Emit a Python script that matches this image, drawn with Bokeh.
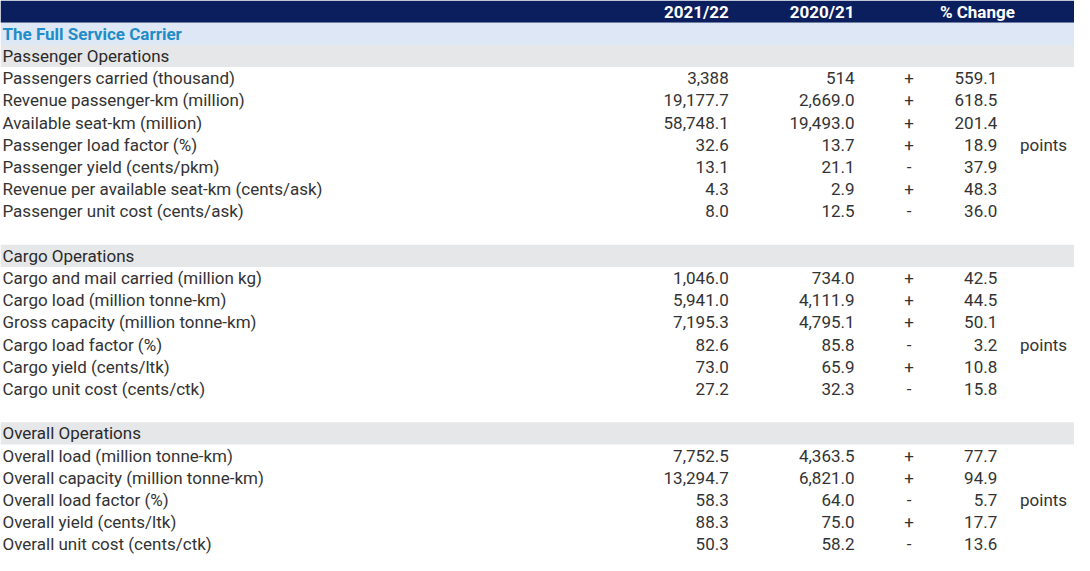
from bokeh.plotting import figure
from bokeh.models import ColumnDataSource, Range1d
from bokeh.core.properties import value
from bokeh.embed import file_html
from bokeh.resources import INLINE

# ---------------- data ----------------
column_headers = ["2021/22", "2020/21", "% Change"]
table_title = "The Full Service Carrier"
section_names = ["Passenger Operations", "Cargo Operations", "Overall Operations"]

pax_labels = [
    "Passengers carried (thousand)",
    "Revenue passenger-km (million)",
    "Available seat-km (million)",
    "Passenger load factor (%)",
    "Passenger yield (cents/pkm)",
    "Revenue per available seat-km (cents/ask)",
    "Passenger unit cost (cents/ask)",
]
pax_2122 = [3388, 19177.7, 58748.1, 32.6, 13.1, 4.3, 8.0]
pax_2021 = [514, 2669.0, 19493.0, 13.7, 21.1, 2.9, 12.5]
pax_change = [559.1, 618.5, 201.4, 18.9, -37.9, 48.3, -36.0]
pax_points = [False, False, False, True, False, False, False]

cargo_labels = [
    "Cargo and mail carried (million kg)",
    "Cargo load (million tonne-km)",
    "Gross capacity (million tonne-km)",
    "Cargo load factor (%)",
    "Cargo yield (cents/ltk)",
    "Cargo unit cost (cents/ctk)",
]
cargo_2122 = [1046.0, 5941.0, 7195.3, 82.6, 73.0, 27.2]
cargo_2021 = [734.0, 4111.9, 4795.1, 85.8, 65.9, 32.3]
cargo_change = [42.5, 44.5, 50.1, -3.2, 10.8, -15.8]
cargo_points = [False, False, False, True, False, False]

overall_labels = [
    "Overall load (million tonne-km)",
    "Overall capacity (million tonne-km)",
    "Overall load factor (%)",
    "Overall yield (cents/ltk)",
    "Overall unit cost (cents/ctk)",
]
overall_2122 = [7752.5, 13294.7, 58.3, 88.3, 50.3]
overall_2021 = [4363.5, 6821.0, 64.0, 75.0, 58.2]
overall_change = [77.7, 94.9, -5.7, 17.7, -13.6]
overall_points = [False, False, True, False, False]

# ---------------- layout ----------------
TOTAL_W = 1084
X_LABEL = 2
X_C1 = 735
X_C2 = 862
X_SIGN = 917
X_PCT = 1006
X_PTS = 1029
X_HDR3 = 986

FONT = value("Roboto")
FS = "17px"
TXT = "#333333"
NAVY = "#0b1f5e"
LIGHTBLUE = "#dde7f5"
GREY = "#e6e7e9"
TITLE_BLUE = "#1f8dc8"


def fmt(v):
    if isinstance(v, int):
        return f"{v:,}"
    return f"{v:,.1f}"


sections = [
    (section_names[0], pax_labels, pax_2122, pax_2021, pax_change, pax_points),
    (section_names[1], cargo_labels, cargo_2122, cargo_2021, cargo_change, cargo_points),
    (section_names[2], overall_labels, overall_2122, overall_2021, overall_change, overall_points),
]

row = 0
header_row = row
row += 1
title_row = row
row += 1

sec_rows, sec_text = [], []
lab_y, lab_t, c1_t, c2_t, sg_t, pc_t = [], [], [], [], [], []
pts_y = []
for si, (name, labels, a, b, ch, pts) in enumerate(sections):
    if si > 0:
        row += 1  # blank spacer
    sec_rows.append(row)
    sec_text.append(name)
    row += 1
    for i, lab in enumerate(labels):
        y = row + 0.5
        lab_y.append(y)
        lab_t.append(lab)
        c1_t.append(fmt(a[i]))
        c2_t.append(fmt(b[i]))
        sg_t.append("+" if ch[i] >= 0 else "-")
        pc_t.append(fmt(abs(ch[i])))
        if pts[i]:
            pts_y.append(y)
        row += 1
n_rows = row

p = figure(
    width=1074,
    height=555,
    x_range=Range1d(0, TOTAL_W),
    y_range=Range1d(n_rows, 0),
    output_backend="svg",
    toolbar_location=None,
    min_border=0,
    x_axis_location=None,
    y_axis_location=None,
)
p.grid.visible = False
p.outline_line_color = None
p.background_fill_color = "white"
p.border_fill_color = "white"

# bands
p.quad(left=[0], right=[TOTAL_W], top=[header_row], bottom=[header_row + 1],
       fill_color=NAVY, line_color=None)
p.quad(left=[0], right=[TOTAL_W], top=[title_row], bottom=[title_row + 1],
       fill_color=LIGHTBLUE, line_color=None)
p.quad(left=[0] * len(sec_rows), right=[TOTAL_W] * len(sec_rows),
       top=sec_rows, bottom=[r + 1 for r in sec_rows],
       fill_color=GREY, line_color=None)

# header text
hy = header_row + 0.5
p.text(x=[X_C1, X_C2], y=[hy, hy], text=column_headers[:2], text_align="right",
       text_baseline="middle", text_font=FONT, text_font_size=FS,
       text_font_style="bold", text_color="white")
p.text(x=[X_HDR3], y=[hy], text=[column_headers[2]], text_align="center",
       text_baseline="middle", text_font=FONT, text_font_size=FS,
       text_font_style="bold", text_color="white")

# title
p.text(x=[X_LABEL], y=[title_row + 0.5], text=[table_title], text_align="left",
       text_baseline="middle", text_font=FONT, text_font_size=FS,
       text_font_style="bold", text_color=TITLE_BLUE)

# section headers
p.text(x=[X_LABEL] * len(sec_rows), y=[r + 0.5 for r in sec_rows], text=sec_text,
       text_align="left", text_baseline="middle", text_font=FONT,
       text_font_size=FS, text_color="#2a2a2a")

src = ColumnDataSource(dict(y=lab_y, lab=lab_t, c1=c1_t, c2=c2_t, sg=sg_t, pc=pc_t,
                            xl=[X_LABEL] * len(lab_y), x1=[X_C1] * len(lab_y),
                            x2=[X_C2] * len(lab_y), xs=[X_SIGN] * len(lab_y),
                            xp=[X_PCT] * len(lab_y)))
common = dict(source=src, text_baseline="middle", text_font=FONT,
              text_font_size=FS, text_color=TXT)
p.text(x="xl", y="y", text="lab", text_align="left", **common)
p.text(x="x1", y="y", text="c1", text_align="right", **common)
p.text(x="x2", y="y", text="c2", text_align="right", **common)
p.text(x="xs", y="y", text="sg", text_align="center", **common)
p.text(x="xp", y="y", text="pc", text_align="right", **common)

p.text(x=[X_PTS] * len(pts_y), y=pts_y, text=["points"] * len(pts_y),
       text_align="left", text_baseline="middle", text_font=FONT,
       text_font_size=FS, text_color=TXT)

open("out.html", "w").write(file_html(p, INLINE))
